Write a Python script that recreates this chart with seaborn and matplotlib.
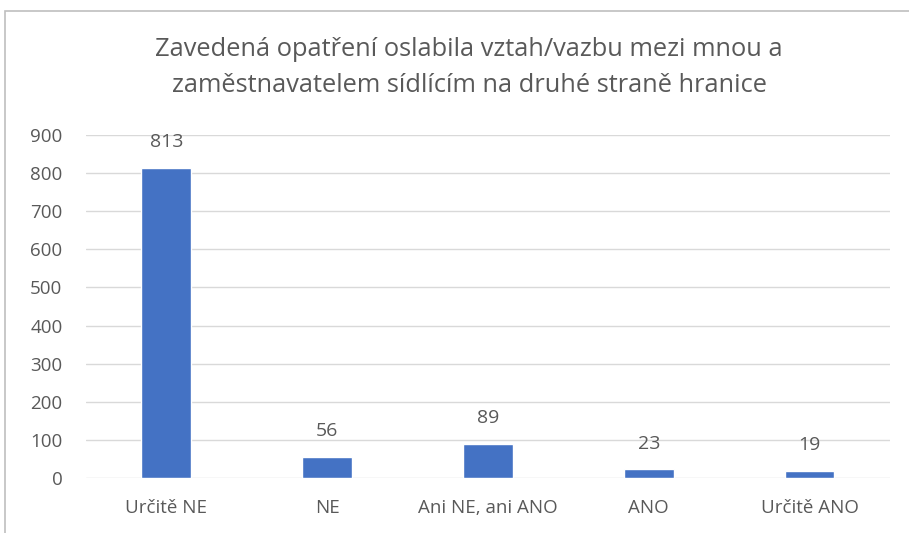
import matplotlib
matplotlib.use("Agg")
import matplotlib.pyplot as plt
import seaborn as sns
import pandas as pd
from matplotlib.patches import Rectangle

# data
answers = ["Určitě NE", "NE", "Ani NE, ani ANO", "ANO", "Určitě ANO"]
counts = [813, 56, 89, 23, 19]
title = "Zavedená opatření oslabila vztah/vazbu mezi mnou a\nzaměstnavatelem sídlícím na druhé straně hranice"

df = pd.DataFrame({"Odpoved": answers, "Pocet": counts})

sns.set_style("white")
plt.rcParams['font.family'] = ['Open Sans', 'DejaVu Sans']

txt = "#595959"
fig = plt.figure(figsize=(9.09, 5.33), dpi=100)
ax = fig.add_axes([0.0946, 0.1032, 0.8844, 0.6435])

sns.barplot(data=df, x="Odpoved", y="Pocet", color="#4472c4", width=0.31,
            saturation=1, ax=ax, zorder=3)

ax.set_ylim(0, 900)
ax.set_xlim(-0.5, 4.5)
ax.set_yticks(range(0, 901, 100))
ax.yaxis.grid(True, color="#d9d9d9", linewidth=1, zorder=0)
ax.set_axisbelow(True)
for s in ax.spines.values():
    s.set_visible(False)
ax.set_xlabel("")
ax.set_ylabel("")
ax.tick_params(axis="both", length=0, labelsize=13.5, labelcolor=txt)
ax.tick_params(axis="y", pad=17)
ax.tick_params(axis="x", pad=15)

for i, v in enumerate(counts):
    ax.annotate(str(v), (i, v), xytext=(0, 12), textcoords="offset points",
                ha="center", va="bottom", fontsize=14, color=txt)

fig.text(0.516, 0.873, title, ha="center", va="center", fontsize=18.3,
         color=txt, linespacing=1.55)

# chart frame
fig.patches.append(Rectangle((5 / 909, -0.1), 1.2, 1.1 - 11 / 533,
                             transform=fig.transFigure, fill=False,
                             edgecolor="#bfbfbf", linewidth=1.2))

fig.savefig("out.png", dpi=100)
